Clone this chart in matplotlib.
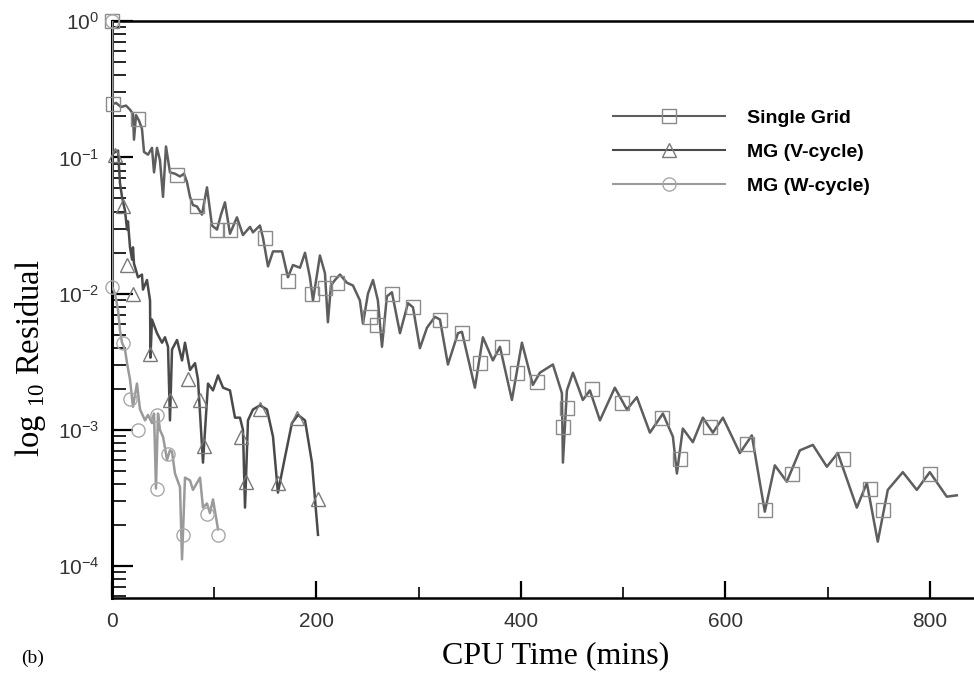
import numpy as np
import matplotlib.pyplot as plt
from matplotlib.lines import Line2D
from matplotlib.ticker import MultipleLocator

# residual history (x: CPU minutes, y: log10 residual)
sg_t = [0, 0.5, 3.9, 8.8, 13.7, 17.6, 20.5, 21.5, 23.5, 26.4, 29.3, 31.3, 35.2, 39.1, 41.1,
        44.0, 46.9, 49.9, 52.8, 56.7, 61.6, 66.5, 70.4, 73.3, 76.3, 79.2, 83.1, 88.0, 92.9,
        97.8, 102.7, 106.6, 110.5, 115.4, 122.2, 128.1, 135.0, 137.9, 144.7, 147.7, 152.6,
        157.5, 166.3, 172.1, 177.0, 183.9, 188.8, 193.6, 196.6, 203.4, 208.3, 211.2, 214.2,
        218.1, 223.0, 229.8, 235.7, 242.5, 245.5, 250.4, 255.3, 260.1, 264.1, 268.9, 273.8,
        281.7, 289.5, 294.4, 301.2, 308.1, 315.9, 320.8, 328.6, 338.4, 342.3, 355.0, 362.8,
        372.6, 379.5, 391.2, 401.0, 411.7, 418.6, 431.3, 440.1, 441.1, 445.0, 450.9, 460.6,
        467.5, 477.3, 491.9, 503.7, 513.4, 526.2, 538.9, 548.7, 552.6, 558.4, 568.2, 578.0,
        587.8, 597.6, 614.2, 625.9, 638.6, 648.4, 660.1, 672.9, 685.6, 699.3, 710.0, 728.6,
        738.4, 749.1, 758.9, 773.6, 787.3, 800.0, 816.6, 826.4]
sg_r = [0, -0.61, -0.60, -0.63, -0.62, -0.65, -0.68, -0.87, -0.69, -0.73, -0.79, -0.96, -0.98,
        -0.93, -1.11, -0.93, -1.02, -1.29, -0.92, -1.11, -1.12, -1.14, -1.12, -1.18, -1.29,
        -1.35, -1.36, -1.42, -1.22, -1.50, -1.53, -1.42, -1.33, -1.56, -1.44, -1.57, -1.51,
        -1.55, -1.50, -1.59, -1.80, -1.69, -1.69, -1.88, -1.79, -1.81, -1.70, -1.88, -2.05,
        -1.72, -1.85, -2.21, -1.94, -1.90, -1.86, -1.92, -1.94, -2.05, -2.22, -2.00, -1.90,
        -2.05, -2.39, -2.02, -1.99, -2.29, -2.07, -2.10, -2.40, -2.25, -2.17, -2.19, -2.52,
        -2.29, -2.28, -2.69, -2.32, -2.49, -2.39, -2.78, -2.36, -2.67, -2.58, -2.52, -2.73,
        -3.24, -2.71, -2.58, -2.78, -2.71, -2.93, -2.69, -2.85, -2.76, -3.02, -2.88, -3.05,
        -3.32, -2.99, -3.09, -2.91, -3.02, -2.91, -3.17, -3.04, -3.60, -3.26, -3.38, -3.15,
        -3.11, -3.27, -3.17, -3.57, -3.39, -3.82, -3.44, -3.31, -3.44, -3.31, -3.49, -3.48]
sg_mt = [0, 0.5, 25.4, 63.6, 83.1, 102.7, 115.4, 149.6, 172.1, 195.6, 208.3, 220.0, 252.3,
         259.2, 273.8, 294.4, 320.8, 342.3, 359.9, 381.4, 396.1, 415.6, 441.1, 445.0, 469.4,
         498.8, 537.9, 555.5, 584.8, 621.0, 638.6, 665.0, 714.9, 741.3, 754.0, 800.0]
sg_mr = [0, -0.61, -0.72, -1.13, -1.36, -1.53, -1.53, -1.59, -1.91, -2.00, -1.96, -1.92,
         -2.17, -2.23, -2.00, -2.10, -2.19, -2.29, -2.51, -2.39, -2.58, -2.65, -2.98, -2.84,
         -2.70, -2.80, -2.91, -3.21, -2.98, -3.10, -3.59, -3.32, -3.21, -3.43, -3.59, -3.32]

v_t = [1.0, 5.9, 7.8, 9.8, 12.7, 14.7, 15.6, 17.6, 19.6, 20.5, 21.5, 23.5, 25.4, 29.3, 30.3,
       34.2, 35.2, 37.2, 37.6, 39.1, 44.0, 48.9, 51.8, 54.8, 56.7, 58.7, 63.6, 68.5, 71.4,
       76.3, 81.2, 84.1, 89.0, 93.9, 98.8, 103.7, 108.6, 115.4, 120.3, 125.2, 128.1, 130.1,
       133.0, 137.9, 144.7, 151.6, 157.5, 162.3, 169.2, 176.0, 181.9, 188.8, 195.6, 201.5]
v_r = [-0.97, -0.95, -1.19, -1.29, -1.39, -1.53, -1.47, -1.66, -1.75, -1.66, -1.78, -1.83,
       -1.88, -1.86, -1.97, -1.90, -1.95, -2.05, -2.47, -2.19, -2.29, -2.36, -2.32, -2.39,
       -2.93, -2.41, -2.34, -2.49, -2.36, -2.56, -2.51, -2.63, -3.24, -2.66, -2.71, -2.60,
       -2.69, -2.71, -2.91, -2.91, -3.00, -3.57, -2.93, -2.85, -2.82, -2.85, -3.05, -3.46,
       -3.20, -2.95, -2.89, -2.93, -3.24, -3.77]
v_mt = [2.9, 10.8, 14.7, 20.5, 37.2, 56.7, 74.3, 86.1, 90.0, 126.2, 131.1, 144.7, 162.3,
        180.9, 201.5]
v_mr = [-0.98, -1.36, -1.79, -2.00, -2.44, -2.78, -2.63, -2.78, -3.12, -3.05, -3.38, -2.85,
        -3.39, -2.91, -3.51]

w_t = [0, 0.3, 2.9, 5.9, 7.8, 9.8, 12.7, 14.7, 17.6, 20.5, 24.4, 27.4, 32.3, 35.2, 39.1,
       41.1, 43.0, 45.0, 46.9, 49.9, 51.8, 53.8, 56.7, 58.7, 61.6, 66.5, 68.5, 71.4, 76.3,
       79.2, 86.1, 89.0, 92.9, 95.8, 98.8, 103.7]
w_r = [0, -1.95, -2.00, -2.12, -2.27, -2.36, -2.41, -2.51, -2.63, -2.83, -2.66, -2.85,
       -2.93, -2.89, -2.95, -2.88, -3.43, -2.88, -3.00, -3.05, -3.13, -3.22, -3.15, -3.16,
       -3.32, -3.42, -3.95, -3.35, -3.37, -3.44, -3.35, -3.57, -3.54, -3.61, -3.51, -3.73]
w_mt = [0, 0, 10.8, 17.6, 25.4, 44.0, 44.0, 54.8, 69.4, 92.9, 103.7]
w_mr = [0, -1.95, -2.36, -2.77, -3.00, -2.89, -3.43, -3.18, -3.77, -3.62, -3.77]

labels = ['Single Grid', 'MG (V-cycle)', 'MG (W-cycle)']

fig = plt.figure(figsize=(9.74, 6.81), dpi=100)
ax = fig.add_axes([0.115, 0.122, 0.890, 0.847])

series = [
    (sg_t, sg_r, sg_mt, sg_mr, 's', '#5e5e5e', '#8a8a8a'),
    (v_t, v_r, v_mt, v_mr, '^', '#4a4a4a', '#7a7a7a'),
    (w_t, w_r, w_mt, w_mr, 'o', '#9a9a9a', '#a8a8a8'),
]
handles = []
for (t, r, mt, mr, mk, lc, mc), lab in zip(series, labels):
    ax.plot(t, 10 ** np.array(r), color=lc, lw=1.8, zorder=3,
            solid_joinstyle='round')
    ax.plot(mt, 10 ** np.array(mr), ls='none', marker=mk, ms=9.5, mfc='none',
            mec=mc, mew=1.0, zorder=4, clip_on=False)
    handles.append(Line2D([], [], color=lc, lw=1.5, marker=mk, ms=9.5, mfc='none',
                          mec=mc, mew=1.0))

ax.set_yscale('log')
ax.set_ylim(5.85e-5, 1)
ax.set_xlim(0, 848)
ax.xaxis.set_major_locator(MultipleLocator(200))
ax.xaxis.set_minor_locator(MultipleLocator(100))

ax.tick_params(axis='both', which='both', direction='in', colors='black')
ax.tick_params(axis='y', which='major', length=15, width=1.6, labelsize=15,
               labelcolor='#333333', pad=9)
ax.tick_params(axis='y', which='minor', length=10, width=1.2)
ax.tick_params(axis='x', which='major', length=12, width=1.6, labelsize=15,
               labelcolor='#333333', pad=10)
ax.tick_params(axis='x', which='minor', length=8, width=1.2)
ax.tick_params(top=False, right=False, which='both')
for lab in ax.get_xticklabels() + ax.get_yticklabels():
    lab.set_family('Liberation Sans')

ax.spines['left'].set_linewidth(2.2)
ax.spines['bottom'].set_linewidth(1.8)
ax.spines['top'].set_linewidth(1.8)
ax.spines['right'].set_visible(False)

ax.legend(handles, labels, loc='center left', bbox_to_anchor=(0.619, 0.777),
          bbox_transform=fig.transFigure, frameon=False, borderpad=0,
          handlelength=5.8, handletextpad=1.1, labelspacing=0.85,
          prop={'family': 'Liberation Sans', 'weight': 'bold', 'size': 14})

fig.text(0.031, 0.474, r'log $_{\mathdefault{10}}$ Residual', rotation=90,
         ha='center', va='center', family='Liberation Serif', fontsize=23.5)
fig.text(0.57, 0.037, 'CPU Time (mins)', ha='center', va='center',
         family='Liberation Serif', fontsize=23)
fig.text(0.033, 0.034, '(b)', ha='center', va='center',
         family='Liberation Serif', fontsize=14)

fig.savefig('out.png', dpi=100)
